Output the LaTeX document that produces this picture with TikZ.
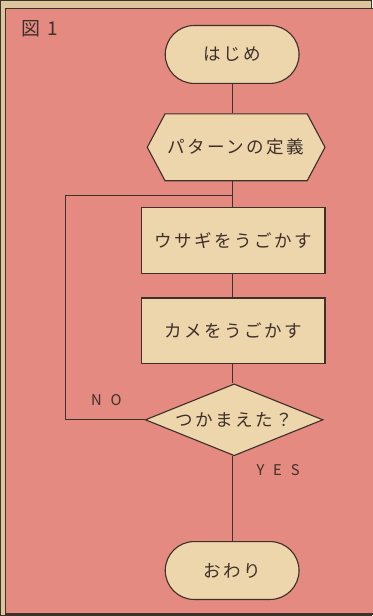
\documentclass[tikz,border=0pt]{standalone}
\usepackage{fontspec}
\usepackage{xcolor}
\usetikzlibrary{shapes.geometric,shapes.misc,shapes.symbols}
\newfontfamily\jpfont[LetterSpace=14]{Noto Sans CJK JP}
\newfontfamily\latinfont[LetterSpace=60]{Noto Sans CJK JP}
\definecolor{paper}{RGB}{220,198,158}
\definecolor{salmon}{RGB}{228,138,128}
\definecolor{cream}{RGB}{238,214,172}
\definecolor{ink}{RGB}{62,48,42}

\begin{document}
\begin{tikzpicture}[x=0.025cm, y=-0.025cm,
  every path/.style={line width=0.8pt, draw=ink},
  box/.style={draw=ink, fill=cream, line width=0.8pt, font=\jpfont\fontsize{12.5}{14}\selectfont,
    text=ink, inner sep=0pt},
  terminal/.style={box, rounded rectangle, minimum width=3.35cm, minimum height=1.45cm},
  process/.style={box, rectangle, minimum width=4.6cm, minimum height=1.65cm},
  prep/.style={box, signal, signal to=east and west, signal pointer angle=124,
    minimum width=4.45cm, minimum height=1.675cm},
  decision/.style={box, diamond, aspect=2.5, minimum width=4.45cm, minimum height=1.8cm},
  branch/.style={font=\latinfont\fontsize{10.5}{12}\selectfont, text=ink}
]

% paper and frame
\fill[paper] (0,0) rectangle (372,616);
\useasboundingbox (0,0) rectangle (372,616);
\filldraw[fill=salmon] (5,8) rectangle (380,614.5);
\node[font=\jpfont\fontsize{13.5}{15}\selectfont, text=ink] (fig) at (39,28) {図 1};

% flow steps (top to bottom)
\node[terminal] (start) at (232,54) {はじめ};
\node[prep] (pattern) at (236,147) {パターンの定義};
\node[process] (rabbit) at (233,240) {ウサギをうごかす};
\node[process] (turtle) at (233,331) {カメをうごかす};
\node[decision] (caught) at (234,420) {つかまえた？};
\node[terminal] (finish) at (232,571) {おわり};

% connectors
\coordinate (join) at (232,195);
\coordinate (back) at (65,195);
\draw (start.south) -- (start.south |- pattern.north);
\draw (start.south |- pattern.south) -- (start.south |- rabbit.north);
\draw (rabbit.south -| start.south) -- (start.south |- turtle.north);
\draw (turtle.south -| start.south) -- (start.south |- caught.north);
\draw (caught.south -| start.south) -- (finish.north);

% NO loop back
\draw (caught.west) -| (back) -- (join);
\node[branch] (no) at (106,400) {NO};
\node[branch] (yes) at (278,470) {YES};

\end{tikzpicture}
\end{document}
